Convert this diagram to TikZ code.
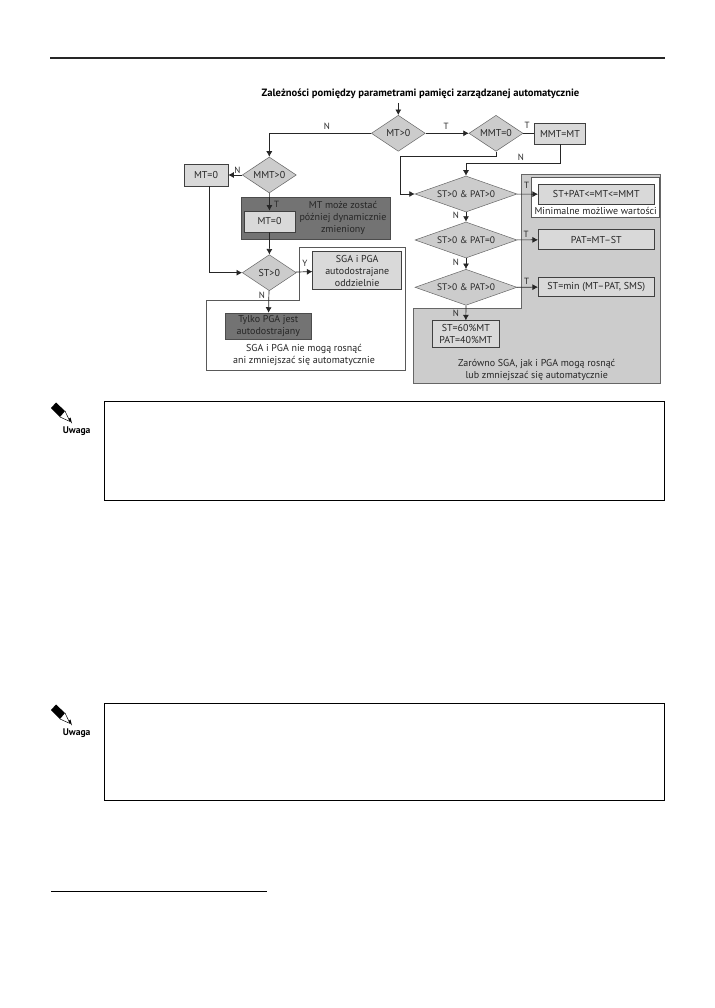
\documentclass[tikz,border=0pt]{standalone}
\usepackage{fontspec}
\setmainfont{PT Sans}
\usetikzlibrary{shapes.geometric,arrows.meta}

\begin{document}
\begin{tikzpicture}[
		x=1pt, y=-1pt,
		font=\fontsize{10}{12}\selectfont,
		decision/.style={diamond, aspect=#1, draw=black!60, fill=black!20, line width=.5pt, inner sep=0pt, minimum width=2*27pt, minimum height=36pt, text=black!85},
		procbox/.style={rectangle, draw=black!75, fill=black!15, line width=.7pt, align=center, inner sep=1pt, text=black!85},
		darkbox/.style={rectangle, fill=black!55, draw=black!70, line width=.5pt, align=center, inner sep=1pt, text=black!85},
		flow/.style={draw=black!85, line width=.7pt, -{Latex[length=5.5pt,width=6pt]}},
		link/.style={draw=black!85, line width=.7pt},
		tag/.style={font=\fontsize{9}{10}\selectfont, inner sep=0pt, text=black!85},
		note/.style={draw=black, line width=1pt, fill=white}
		]
		\useasboundingbox (0,0) rectangle (714,1008);
		\fill[white] (0,0) rectangle (714,1008);
		
		% page rules
		\draw[line width=1.4pt, black!85] (50,58) -- (665,58);
		\draw[line width=.8pt] (51,891) -- (267,891);
		
		% background regions
		\draw[fill=black!20, draw=black!60, line width=.5pt] (521.7,174.3) -- (660.7,174.3) -- (660.7,383.3) -- (413.3,383.3) -- (413.3,308.3) -- (521.7,308.3) -- cycle;
		\draw[fill=white, draw=black!65, line width=.7pt] (299,247.7) -- (405.7,247.7) -- (405.7,370) -- (206,370) -- (206,300) -- (299,300) -- cycle;
		\node[darkbox, minimum width=149pt, minimum height=42pt] (dyn) at (315.3,218) {};
		\node[draw=black!65, fill=white, line width=.7pt, minimum width=127.6pt, minimum height=40pt, inner sep=0pt] (minbox) at (595.5,197.3) {};
		
		% title
		\node[font=\fontsize{10.6}{12}\selectfont\bfseries, inner sep=0pt] (title) at (420.5,94) {Zależności pomiędzy parametrami pamięci zarządzanej automatycznie};
		\coordinate (start) at (398.3,103);
		
		% decisions
		\node[decision=1.5] (mt) at (398.3,133.3) {MT>0};
		\node[decision=1.5] (mmt0) at (496,133.3) {MMT=0};
		\node[decision=1.5] (mmt) at (269.3,175) {MMT>0};
		\node[decision=1.5] (st) at (269.3,272.7) {ST>0};
		\node[decision=2.83, minimum width=102pt, font=\fontsize{9.5}{12}\selectfont] (both) at (466,194) {ST>0 \& PAT>0};
		\node[decision=2.83, minimum width=102pt, font=\fontsize{9.5}{12}\selectfont] (stonly) at (466,240) {ST>0 \& PAT=0};
		\node[decision=2.83, minimum width=102pt, font=\fontsize{9.5}{12}\selectfont] (patonly) at (466,287.3) {ST>0 \& PAT>0};
		
		% boxes
		\node[procbox, minimum width=51.4pt, minimum height=20.7pt] (mmtmt) at (560,133.7) {MMT=MT};
		\node[procbox, minimum width=44pt, minimum height=22pt] (mtzero) at (206,175) {MT=0};
		\node[procbox, minimum width=51pt, minimum height=21pt] (mtlow) at (269.5,221.5) {MT=0};
		\node[inner sep=0pt, align=center, text=black!85] at (343,218) {MT może zostać\\później dynamicznie\\zmieniony};
		\node[procbox, minimum width=89pt, minimum height=37.6pt] (sep) at (357.2,270.5) {SGA i PGA\\autodostrajane\\oddzielnie};
		\node[darkbox, minimum width=86.7pt, minimum height=26pt] (pga) at (268.3,326) {Tylko PGA jest\\autodostrajany};
		\node[procbox, minimum width=116pt, minimum height=20pt] (sum) at (596.3,194.3) {ST+PAT<=MT<=MMT};
		\node[procbox, minimum width=116pt, minimum height=20pt] (patmt) at (596.3,239.7) {PAT=MT--ST};
		\node[procbox, minimum width=116pt, minimum height=19.4pt] (stmin) at (596.3,287) {ST=min (MT--PAT, SMS)};
		\node[procbox, minimum width=66.3pt, minimum height=26.6pt] (split) at (465.8,334) {ST=60\%MT\\PAT=40\%MT};
		
		% captions
		\node[inner sep=0pt, text=black!85] at (595.7,211) {Minimalne możliwe wartości};
		\node[inner sep=0pt, align=center, text=black!85] at (304,354.7) {SGA i PGA nie mogą rosnąć\\ani zmniejszać się automatycznie};
		\node[inner sep=0pt, align=center, text=black!85] at (536.7,370.2) {Zarówno SGA, jak i PGA mogą rosnąć\\lub zmniejszać się automatycznie};
		
		% connectors
		\draw[flow] (start) -- (mt);
		\draw[flow] (mt) -- (mmt0);
		\draw[link] (mmt0) -- (mmtmt);
		\draw[flow] (mt.west) -| (mmt.north);
		\draw[flow] (mmt) -- (mtzero);
		\draw[flow] (mmt) -- (mtlow);
		\draw[flow] (mtlow) -- (st);
		\draw[flow] (mtzero.south) ++(3.3,0) |- (st.west);
		\draw[flow] (st) -- (sep);
		\draw[flow] (st) -- (pga);
		\draw[flow] (mmt0.south) -- ++(0,5) -| (400,194) -- (both.west);
		\draw[flow] (mmtmt.south) -- ++(0,19.3) -| (both.north);
		\draw[flow] (both) -- (sum);
		\draw[flow] (both) -- (stonly);
		\draw[flow] (stonly) -- (patmt);
		\draw[flow] (stonly) -- (patonly);
		\draw[flow] (patonly) -- (stmin);
		\draw[flow] (patonly) -- (split);
		
		% branch letters
		\node[tag] at (327,126) {N};
		\node[tag] at (446,126.5) {T};
		\node[tag] at (527,125.5) {T};
		\node[tag] at (521,157.5) {N};
		\node[tag] at (237.5,170) {N};
		\node[tag] at (276.5,204) {T};
		\node[tag] at (305,263.5) {Y};
		\node[tag] at (262,295) {N};
		\node[tag] at (526.5,185) {T};
		\node[tag] at (526,234) {T};
		\node[tag] at (526.5,281) {T};
		\node[tag] at (456,215) {N};
		\node[tag] at (456,262.5) {N};
		\node[tag] at (456,313.5) {N};
		
		% note frames
		\node[note, minimum width=560pt, minimum height=99pt] (noteone) at (384,450.5) {};
		\node[note, minimum width=560pt, minimum height=97pt] (notetwo) at (384,751.5) {};
		
		% pencil marks
		\foreach \ytop/\name in {401/one, 703/two} {
			\begin{scope}[shift={(0,\ytop)}]
				\fill[black] (51,7) -- (56,1.5) -- (65,10) -- (60,16) -- cycle;
				\draw[line width=.5pt] (60,16) -- (70,20.5) -- (65,10);
				\fill[black] (68.5,18) -- (72,22.5) -- (70.5,16.5) -- cycle;
				\node[inner sep=0pt, font=\fontsize{9.6}{10}\selectfont\bfseries] (uwaga\name) at (76.7,30.5) {Uwaga};
			\end{scope}
		}
	\end{tikzpicture}
\end{document}
